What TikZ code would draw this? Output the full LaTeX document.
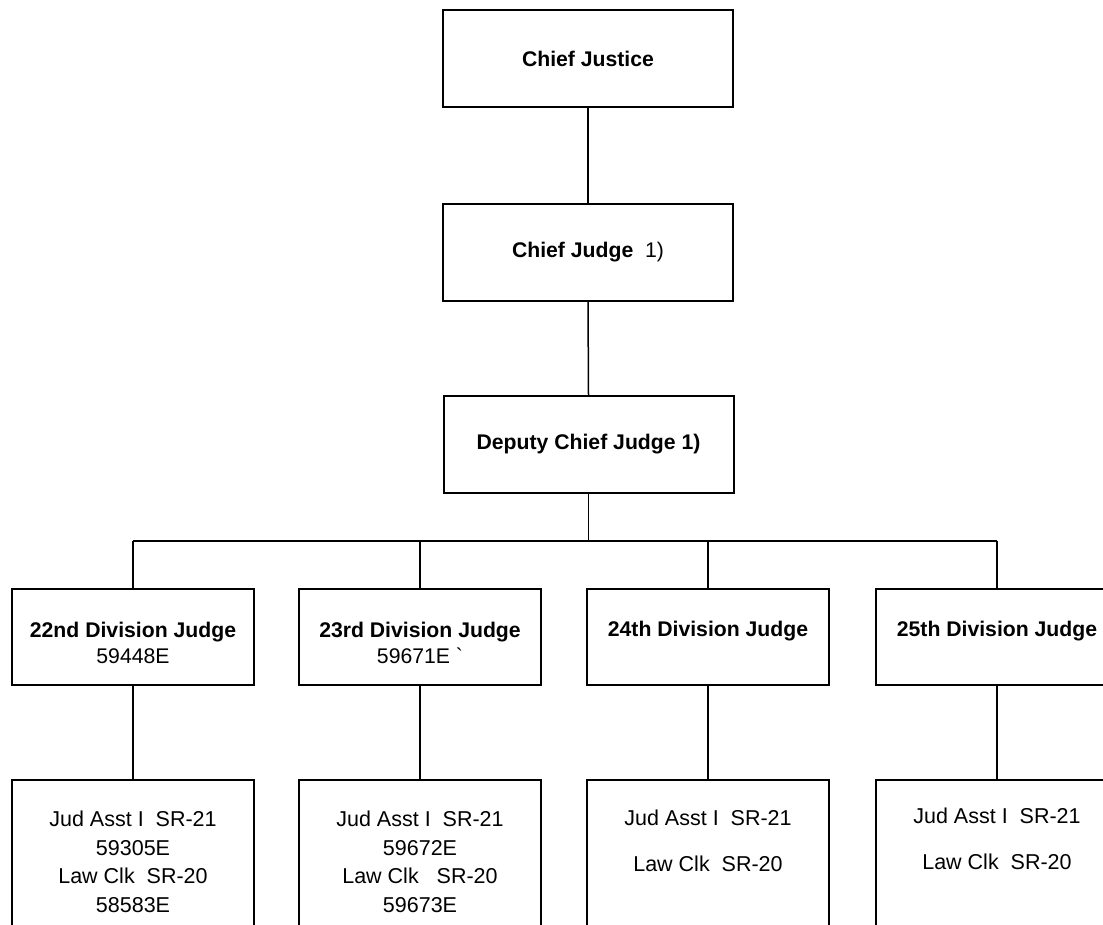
\documentclass[tikz,border=0pt]{standalone}
\usepackage{fontspec}
\setmainfont{Liberation Sans}
\begin{document}
\begin{tikzpicture}[x=1pt,y=-1pt,
  box/.style={draw, line width=2pt, inner sep=0pt},
  topbox/.style={box, minimum width=290pt, minimum height=97pt},
  divbox/.style={box, minimum width=242pt, minimum height=96pt},
  staffbox/.style={box, minimum width=242pt, minimum height=170pt},
  bfnt/.style={font=\fontsize{21.2}{26}\selectfont\bfseries},
  txt/.style={inner sep=0pt, align=center, font=\fontsize{21.2}{26}\selectfont},
  conn/.style={line width=1.5pt}]
\useasboundingbox (0,0) rectangle (1103,924);
\clip (0,0) rectangle (1103,924);
% top chain
\node[topbox, txt, bfnt] (cj) at (588,58.5) {Chief Justice};
\node[topbox, txt, bfnt] (cjd) at (588,252) {Chief Judge\ \ \mdseries 1)};
\node[topbox, txt, bfnt] (dcj) at (588.5,444.5) {Deputy Chief Judge 1)};
% division boxes
\node[divbox] (d22) at (133,637) {};
\node[divbox] (d23) at (420,637) {};
\node[divbox] (d24) at (708,637) {};
\node[divbox] (d25) at (997,637) {};
\node[txt] (t22) at (133,643) {\textbf{22nd Division Judge}\\59448E};
\node[txt] (t23) at (420,643) {\textbf{23rd Division Judge}\\59671E \textasciigrave};
\node[txt, bfnt] (t24) at (708,631) {24th Division Judge};
\node[txt, bfnt] (t25) at (997,631) {25th Division Judge};
% staff boxes
\node[staffbox] (s22) at (133,865) {};
\node[staffbox] (s23) at (420,865) {};
\node[staffbox] (s24) at (708,865) {};
\node[staffbox] (s25) at (997,865) {};
\node[txt, font=\fontsize{21.5}{28.6}\selectfont] (u22) at (133,862) {Jud Asst I\ \ SR-21\\59305E\\Law Clk\ \ SR-20\\58583E};
\node[txt, font=\fontsize{21.5}{28.6}\selectfont] (u23) at (420,862) {Jud Asst I\ \ SR-21\\59672E\\Law Clk\ \ \ SR-20\\59673E};
\node[txt, font=\fontsize{21.5}{46}\selectfont] (u24) at (708,841) {Jud Asst I\ \ SR-21\\Law Clk\ \ SR-20};
\node[txt, font=\fontsize{21.5}{46}\selectfont] (u25) at (997,839) {Jud Asst I\ \ SR-21\\Law Clk\ \ SR-20};
% connectors
\draw[conn] (cj.south) -- (cjd.north);
\draw[conn] (cjd.south) -- (dcj.north);
\coordinate (busL) at (133,541);
\coordinate (busR) at (997,541);
\draw[conn] (busL) -- (busR);
\draw[conn] (dcj.south) -- (dcj.south |- busL);
\draw[conn] (busL) -- (d22.north);
\draw[conn] (d23.north |- busL) -- (d23.north);
\draw[conn] (d24.north |- busL) -- (d24.north);
\draw[conn] (busR) -- (d25.north);
\draw[conn] (d22.south) -- (s22.north);
\draw[conn] (d23.south) -- (s23.north);
\draw[conn] (d24.south) -- (s24.north);
\draw[conn] (d25.south) -- (s25.north);
\end{tikzpicture}
\end{document}
